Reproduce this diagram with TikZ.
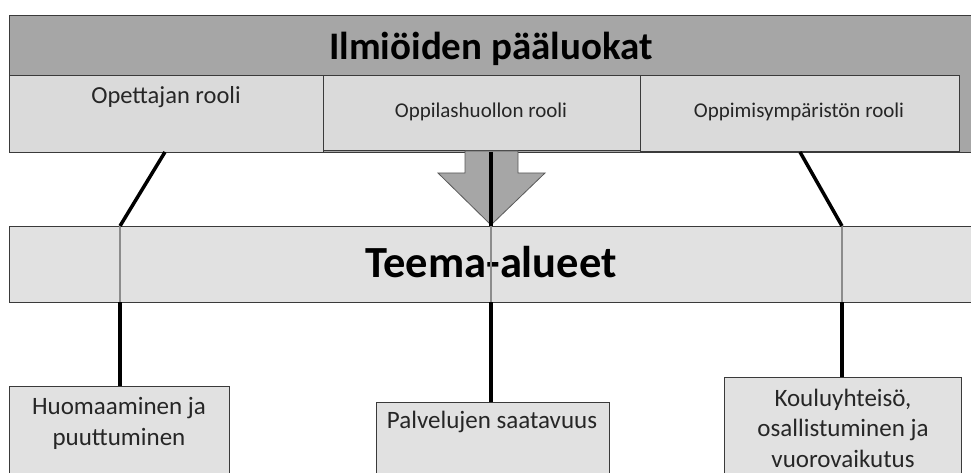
\documentclass[tikz,border=0pt]{standalone}
\usepackage{fontspec}
\setmainfont{Carlito}
\definecolor{darkbar}{HTML}{A6A6A6}
\definecolor{subfill}{HTML}{DADADA}
\definecolor{lightfill}{HTML}{E1E1E1}
\definecolor{edge}{HTML}{3A3A3A}
\definecolor{txt}{HTML}{262626}
\tikzset{
  boxshape/.style={draw=edge, line width=1pt, inner sep=0pt, anchor=north west},
  conn/.style={line width=3.5pt, black},
  inner/.style={line width=1.5pt, draw=gray!90},
  lbl/.style={text=txt, inner sep=0pt, align=center}
}
\begin{document}
\begin{tikzpicture}[x=1pt, y=-1pt]
\useasboundingbox (0,0) rectangle (971,473);
% top bar
\node[boxshape, fill=darkbar, minimum width=970pt, minimum height=137pt] (bar) at (9,15) {};
\node[lbl, font=\fontsize{39}{43}\selectfont\bfseries, text=black] (title) at (491,49) {Ilmiöiden pääluokat};
% sub boxes
\node[boxshape, fill=subfill, minimum width=314pt, minimum height=77pt] (opet) at (9,75) {};
\node[boxshape, fill=subfill, minimum width=317pt, minimum height=75pt] (huol) at (323,75) {};
\node[boxshape, fill=subfill, minimum width=319pt, minimum height=76pt] (ymp) at (640,75) {};
\node[lbl, font=\fontsize{24.5}{28}\selectfont] (opett) at (166,97) {Opettajan rooli};
\node[lbl, font=\fontsize{21}{24}\selectfont] (huolt) at (481,112) {Oppilashuollon rooli};
\node[lbl, font=\fontsize{21}{24}\selectfont] (ympt) at (799,112) {Oppimisympäristön rooli};
% arrow
\path[fill=darkbar, draw=gray!70!black, line width=0.8pt]
  (465,151) -- (518,151) -- (518,173) -- (545,173) -- (491,225) -- (438,173) -- (465,173) -- cycle;
% teema box
\node[boxshape, fill=lightfill, minimum width=970pt, minimum height=76pt] (teema) at (9,226) {};
\node[lbl, font=\fontsize{44.5}{48}\selectfont\bfseries, text=black] (teemat) at (491,262) {Teema-alueet};
% coordinates
\coordinate (o1) at (165,152);
\coordinate (o2) at (491,152);
\coordinate (o3) at (800,152);
\coordinate (t1) at (120,226);
\coordinate (t2) at (491,226);
\coordinate (t3) at (842,226);
\coordinate (b1) at (120,302);
\coordinate (b2) at (491,302);
\coordinate (b3) at (842,302);
% inner gray lines
\draw[inner] (t1) -- (b1);
\draw[inner] (t2) -- (b2);
\draw[inner] (t3) -- (b3);
% bottom boxes
\node[boxshape, fill=lightfill, minimum width=220pt, minimum height=120pt] (huom) at (9,386) {};
\node[boxshape, fill=lightfill, minimum width=233pt, minimum height=120pt] (palv) at (376,402) {};
\node[boxshape, fill=lightfill, minimum width=237pt, minimum height=120pt] (koul) at (724,377) {};
\node[lbl, font=\fontsize{25}{31}\selectfont] (huomt) at (119,423) {Huomaaminen ja\\puuttuminen};
\node[lbl, font=\fontsize{25}{30}\selectfont] (palvt) at (492,422) {Palvelujen saatavuus};
\node[lbl, font=\fontsize{25}{30.5}\selectfont] (koult) at (843,428) {Kouluyhteisö,\\osallistuminen ja\\vuorovaikutus};
% connectors
\draw[conn] (o1) -- (t1);
\draw[conn] (o2) -- (t2);
\draw[conn] (o3) -- (t3);
\draw[conn] (b1) -- (huom.north -| b1);
\draw[conn] (b2) -- (palv.north -| b2);
\draw[conn] (b3) -- (koul.north -| b3);
\end{tikzpicture}
\end{document}
